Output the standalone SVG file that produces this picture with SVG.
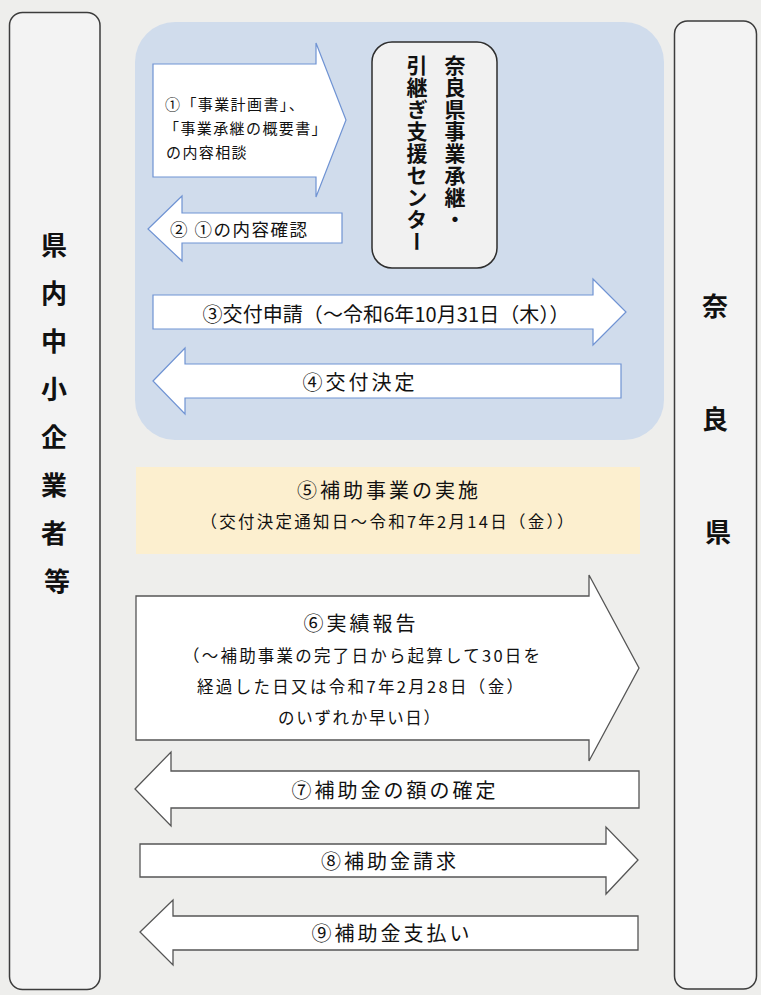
<svg xmlns="http://www.w3.org/2000/svg" width="761" height="995" viewBox="0 0 761 995">
  <style>
    text { font-family: "Noto Sans CJK JP", "Noto Sans", sans-serif; fill: #111; }
    .col { fill: #f3f3f3; stroke: #3c3c3c; stroke-width: 1.5; }
    .colt { font-size: 26px; font-weight: bold; text-anchor: middle; dominant-baseline: central; }
    .blue { fill: #ffffff; stroke: #6f93d3; stroke-width: 1.2; }
    .gray { fill: #ffffff; stroke: #555555; stroke-width: 1.3; }
    .t { font-size: 20px; letter-spacing: 3px; text-anchor: middle; dominant-baseline: central; }
    .s { font-size: 16.5px; text-anchor: middle; dominant-baseline: central; }
    .sl { font-size: 15px; letter-spacing: 1.4px; dominant-baseline: central; }
    .vt { font-size: 21px; font-weight: bold; writing-mode: vertical-rl; text-orientation: upright; letter-spacing: 1px; }
  </style>
  <rect x="0" y="0" width="761" height="995" fill="#eeeeec"/>

  <g id="consult-area">
    <rect x="135" y="22" width="529" height="418" rx="40" fill="#d0dcec"/>
  </g>

  <g id="node-smes">
    <rect class="col" x="9.5" y="12.5" width="90.5" height="977" rx="13"/>
    <text class="colt" x="57">
      <tspan x="57" y="243">県</tspan>
      <tspan x="57" y="291">内</tspan>
      <tspan x="57" y="339">中</tspan>
      <tspan x="57" y="387">小</tspan>
      <tspan x="57" y="435">企</tspan>
      <tspan x="57" y="483">業</tspan>
      <tspan x="57" y="531">者</tspan>
      <tspan x="57" y="579">等</tspan>
    </text>
  </g>

  <g id="node-nara">
    <rect class="col" x="674.5" y="21" width="82" height="968" rx="13"/>
    <text class="colt" x="718">
      <tspan x="718" y="304">奈</tspan>
      <tspan x="718" y="417">良</tspan>
      <tspan x="718" y="530">県</tspan>
    </text>
  </g>

  <g id="node-center">
    <rect x="372" y="42" width="125" height="226" rx="20" fill="#f1f1f1" stroke="#2e2e2e" stroke-width="1.5"/>
    <text class="vt" x="455" y="55">奈良県事業承継・</text>
    <text class="vt" x="417" y="55">引継ぎ支援センター</text>
  </g>

  <g id="node-step5">
    <rect x="136" y="467" width="504" height="87" fill="#fcefcf"/>
    <text class="t" x="389" y="489">⑤補助事業の実施</text>
    <text class="s" x="387" y="520.5" textLength="373" lengthAdjust="spacing">（交付決定通知日～令和7年2月14日（金））</text>
  </g>

  <g id="connectors">
    <g id="arrow1">
      <polygon class="blue" points="153,64 316,64 316,43 346,120 316,197 316,177 153,177"/>
      <text class="sl" x="165" y="103">①「事業計画書」、</text>
      <text class="sl" x="164" y="127">「事業承継の概要書」</text>
      <text class="sl" x="166" y="151">の内容相談</text>
    </g>
    <g id="arrow2">
      <polygon class="blue" points="148,229 182,196 182,213 342,213 342,243 182,243 182,261"/>
      <text font-size="17.5" letter-spacing="1.5" dominant-baseline="central" x="170" y="228">②  ①の内容確認</text>
    </g>
    <g id="arrow3">
      <polygon class="blue" points="153,295 593,295 593,279 626,312 593,345 593,329 153,329"/>
      <text class="t" x="386" y="313" textLength="367" lengthAdjust="spacing" style="letter-spacing:0">③交付申請（～令和6年10月31日（木））</text>
    </g>
    <g id="arrow4">
      <polygon class="blue" points="153,381 185,348 185,364 621,364 621,398 185,398 185,414"/>
      <text class="t" x="360" y="381">④交付決定</text>
    </g>
    <g id="arrow6">
      <polygon class="gray" points="136,596 589,596 589,575 639,668 589,761 589,740 136,740"/>
      <text class="t" x="361" y="622">⑥実績報告</text>
      <text class="s" x="361.5" y="655" textLength="357" lengthAdjust="spacing">（～補助事業の完了日から起算して30日を</text>
      <text class="s" x="360" y="685.5" textLength="326" lengthAdjust="spacing">経過した日又は令和7年2月28日（金）</text>
      <text class="s" x="359" y="716.5" textLength="162" lengthAdjust="spacing">のいずれか早い日）</text>
    </g>
    <g id="arrow7">
      <polygon class="gray" points="135,789 171,752 171,771 639,771 639,808 171,808 171,826"/>
      <text class="t" x="395" y="789">⑦補助金の額の確定</text>
    </g>
    <g id="arrow8">
      <polygon class="gray" points="140,844 606,844 606,827 638,860 606,894 606,877 140,877"/>
      <text class="t" x="390" y="860">⑧補助金請求</text>
    </g>
    <g id="arrow9">
      <polygon class="gray" points="140,932 173,900 173,916 638,916 638,950 173,950 173,965"/>
      <text class="t" x="392" y="932">⑨補助金支払い</text>
    </g>
  </g>
</svg>
